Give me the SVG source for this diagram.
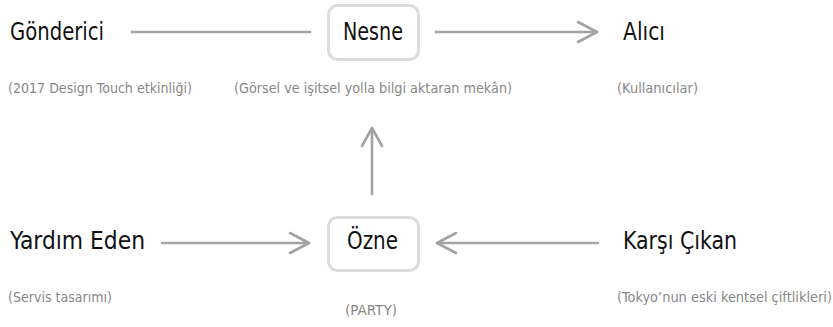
<svg xmlns="http://www.w3.org/2000/svg" width="833" height="327" viewBox="0 0 833 327">
  <style>
    .label { font-family: "DejaVu Sans Condensed", "DejaVu Sans", "Liberation Sans", sans-serif; font-stretch: condensed; font-size: 24px; fill: #111111; }
    .note { font-family: "DejaVu Sans Condensed", "DejaVu Sans", "Liberation Sans", sans-serif; font-stretch: condensed; font-size: 14px; fill: #878787; }
    .box { fill: #ffffff; stroke: #dcdcdc; stroke-width: 3; }
    .edge { stroke: #a3a3a3; stroke-width: 2.6; fill: none; stroke-linecap: round; stroke-linejoin: round; }
  </style>
  <rect width="833" height="327" fill="#ffffff"/>

  <g id="connectors">
    <!-- Gönderici — Nesne -->
    <line class="edge" x1="132" y1="32" x2="310" y2="32"/>
    <!-- Nesne → Alıcı -->
    <line class="edge" x1="436" y1="32" x2="597" y2="32"/>
    <polyline class="edge" points="578,22 597,32 578,42"/>
    <!-- Özne → Nesne -->
    <line class="edge" x1="372" y1="194" x2="372" y2="128"/>
    <polyline class="edge" points="362,146 372,128 382,146"/>
    <!-- Yardım Eden → Özne -->
    <line class="edge" x1="162" y1="243" x2="309" y2="243"/>
    <polyline class="edge" points="290,233 309,243 290,253"/>
    <!-- Karşı Çıkan → Özne -->
    <line class="edge" x1="598" y1="243" x2="437" y2="243"/>
    <polyline class="edge" points="456,233 437,243 456,253"/>
  </g>

  <g id="gonderici">
    <text class="label" x="10" y="40" textLength="94" lengthAdjust="spacingAndGlyphs">Gönderici</text>
    <text class="note" x="8" y="93" textLength="184" lengthAdjust="spacingAndGlyphs">(2017 Design Touch etkinliği)</text>
  </g>

  <g id="nesne">
    <rect class="box" x="328.5" y="5.5" width="90" height="54" rx="9"/>
    <text class="label" x="343" y="40" textLength="60" lengthAdjust="spacingAndGlyphs">Nesne</text>
    <text class="note" x="234" y="93" textLength="278" lengthAdjust="spacingAndGlyphs">(Görsel ve işitsel yolla bilgi aktaran mekân)</text>
  </g>

  <g id="alici">
    <text class="label" x="623" y="40" textLength="42" lengthAdjust="spacingAndGlyphs">Alıcı</text>
    <text class="note" x="617" y="93" textLength="81" lengthAdjust="spacingAndGlyphs">(Kullanıcılar)</text>
  </g>

  <g id="yardim-eden">
    <text class="label" x="10" y="249" textLength="135" lengthAdjust="spacingAndGlyphs">Yardım Eden</text>
    <text class="note" x="8" y="302" textLength="104" lengthAdjust="spacingAndGlyphs">(Servis tasarımı)</text>
  </g>

  <g id="ozne">
    <rect class="box" x="328.5" y="217.5" width="90" height="53" rx="9"/>
    <text class="label" x="347" y="249" textLength="51" lengthAdjust="spacingAndGlyphs">Özne</text>
    <text class="note" x="345" y="315" textLength="52" lengthAdjust="spacingAndGlyphs">(PARTY)</text>
  </g>

  <g id="karsi-cikan">
    <text class="label" x="623" y="249" textLength="114" lengthAdjust="spacingAndGlyphs">Karşı Çıkan</text>
    <text class="note" x="617" y="302" textLength="215" lengthAdjust="spacingAndGlyphs">(Tokyo’nun eski kentsel çiftlikleri)</text>
  </g>
</svg>
